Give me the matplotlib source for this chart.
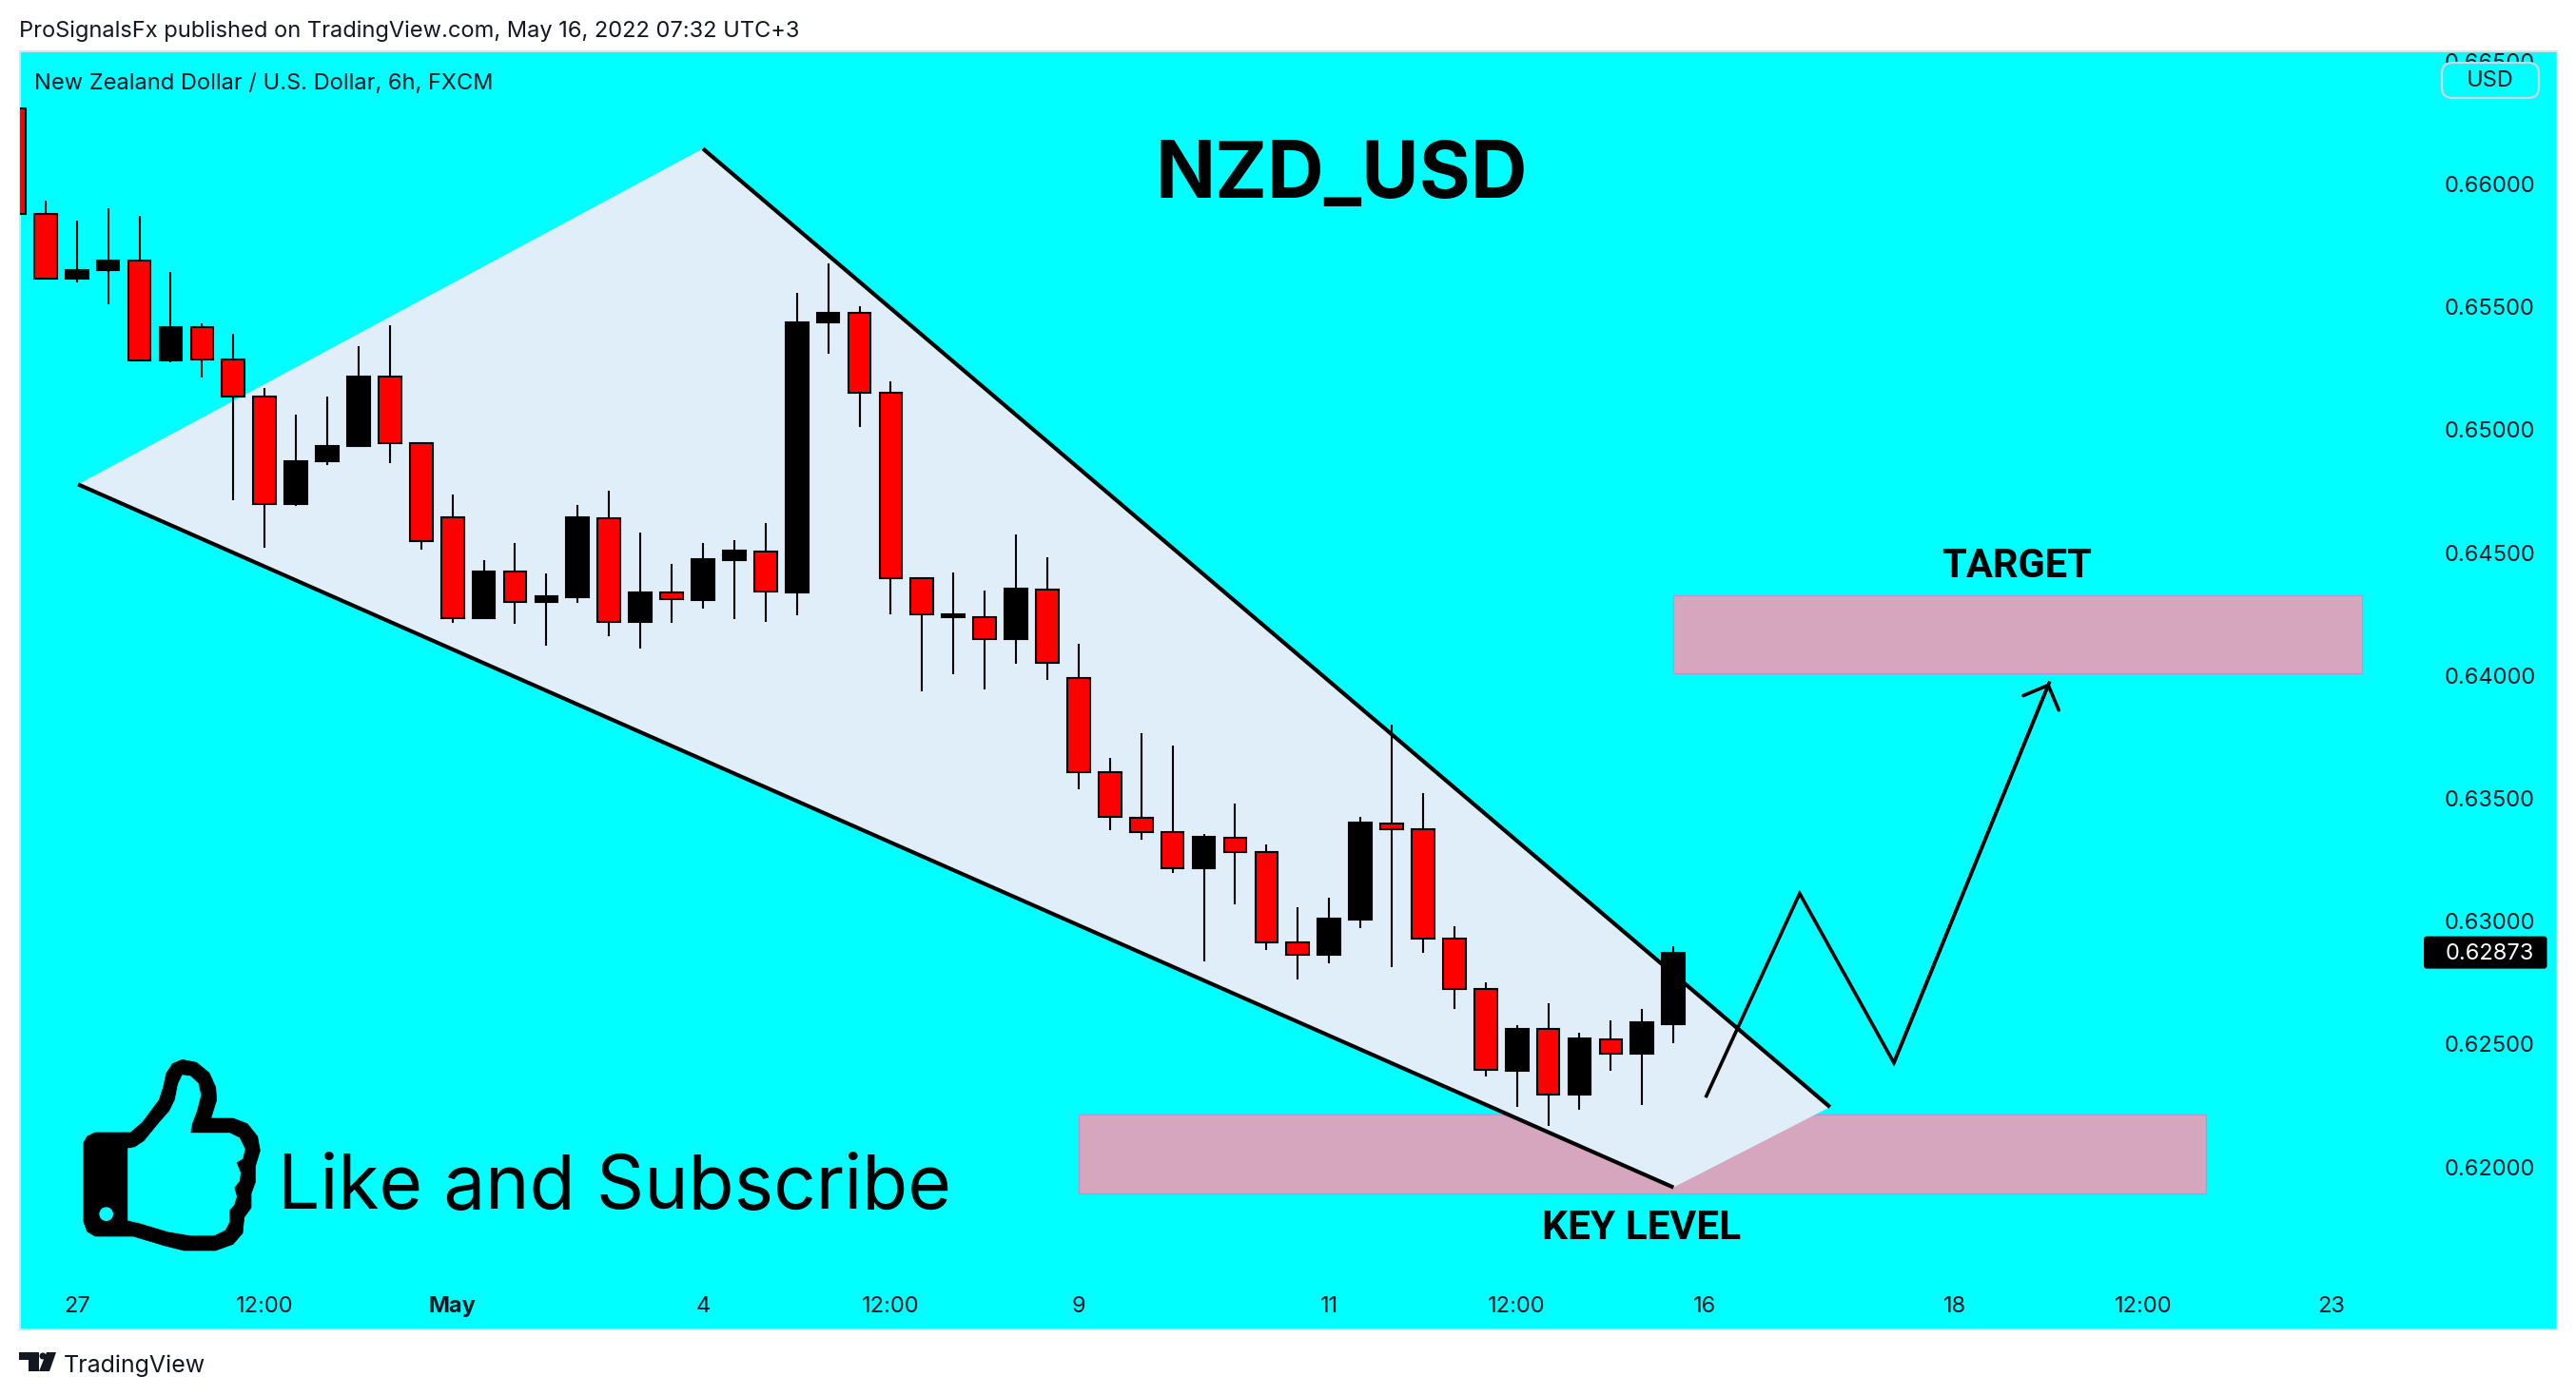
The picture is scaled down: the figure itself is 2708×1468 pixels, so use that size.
import matplotlib
matplotlib.use("Agg")
import matplotlib.pyplot as plt
from matplotlib.patches import Polygon, Rectangle, FancyBboxPatch, Circle
from matplotlib.transforms import Affine2D

plt.rcParams['font.family'] = ['Inter', 'DejaVu Sans']

# 6h candles, first one is cut by the left edge of the panel
opens = [.66307, .65878, .65614, .65650, .65688, .65282, .65417, .65285, .65136, .64697,
         .64872, .64933, .65217, .64945, .64645, .64232, .64424, .64298, .64317, .64641,
         .64218, .64339, .64309, .64468, .64506, .64340, .65436, .65474, .65151, .64395,
         .64236, .64238, .64147, .64350, .63991, .63607, .63421, .63364, .63214, .63341,
         .63282, .62915, .62863, .63006, .63399, .63376, .62931, .62725, .62392, .62560,
         .62295, .62521, .62460, .62583]
highs = [.66307, .65932, .65850, .65903, .65872, .65641, .65435, .65392, .65171, .65063,
         .65137, .65342, .65427, .64951, .64735, .64468, .64538, .64414, .64696, .64754,
         .64580, .64453, .64538, .64549, .64619, .65558, .65678, .65501, .65199, .64395,
         .64418, .64344, .64576, .64480, .64128, .63664, .63764, .63714, .63354, .63478,
         .63311, .63056, .63095, .63424, .63799, .63520, .62979, .62750, .62576, .62665,
         .62545, .62596, .62642, .62897]
lows = [.65880, .65610, .65599, .65510, .65278, .65273, .65213, .64713, .64520, .64690,
        .64856, .64933, .64863, .64511, .64213, .64232, .64209, .64120, .64294, .64162,
        .64108, .64213, .64271, .64228, .64220, .64247, .65311, .65010, .64248, .63934,
        .64004, .63942, .64046, .63984, .63536, .63371, .63331, .63195, .62836, .63068,
        .62882, .62762, .62828, .62973, .62812, .62870, .62642, .62367, .62244, .62166,
        .62232, .62391, .62251, .62503]
closes = [.65880, .65615, .65650, .65690, .65284, .65419, .65287, .65136, .64697, .64874,
          .64935, .65217, .64946, .64548, .64233, .64425, .64299, .64321, .64642, .64218,
          .64340, .64311, .64472, .64507, .64342, .65438, .65477, .65151, .64398, .64249,
          .64251, .64149, .64352, .64051, .63608, .63423, .63364, .63217, .63343, .63282,
          .62915, .62865, .63010, .63400, .63376, .62931, .62725, .62394, .62561, .62296,
          .62522, .62462, .62588, .62873]
bars = list(range(-1, 53))

x_ticks = [1, 7, 13, 21, 27, 33, 41, 47, 53, 61, 67, 73]
x_labels = ['27', '12:00', 'May', '4', '12:00', '9', '11', '12:00', '16', '18', '12:00', '23']
y_ticks = [.62, .625, .63, .635, .64, .645, .65, .655, .66, .665]

# drawings on the chart
wedge_x = [1.04, 21, 57, 52]
wedge_y = [.64778, .66144, .62244, .61917]
key_x = [33, 69]
key_y = [.61892, .62213]
target_x = [52, 74]
target_y = [.64008, .64326]
path_x = [53.05, 56.03, 59.04, 64]
path_y = [.62289, .63113, .62424, .63970]

W, H = 2708, 1468
CYAN = '#00FFFF'
fig = plt.figure(figsize=(W / 100, H / 100), dpi=100, facecolor='white')
ax = fig.add_axes([20.5 / W, 1 - 1398 / H, 2667.5 / W, 1344 / H], facecolor=CYAN)
ax.set_xlim(-0.83, 80.22)
ax.set_ylim(.61339, .6654)
for s in ax.spines.values():
    s.set_color('#CFE6EC')
    s.set_linewidth(1.4)

# pixel coords of the picture, y going down
pix = Affine2D().scale(1, -1).translate(0, H)

for x, y in [(key_x, key_y), (target_x, target_y)]:
    ax.add_patch(Rectangle((x[0], y[0]), x[1] - x[0], y[1] - y[0], facecolor='#D6A6BE',
                           edgecolor='#C68FCB', linewidth=0.9, zorder=1))
ax.add_patch(Polygon(list(zip(wedge_x, wedge_y)), closed=True, facecolor='#E0EEF9',
                     edgecolor='none', zorder=2))
ax.plot([wedge_x[0], wedge_x[3]], [wedge_y[0], wedge_y[3]], color='black', lw=3.0,
        solid_capstyle='butt', zorder=3)
ax.plot(wedge_x[1:3], wedge_y[1:3], color='black', lw=3.0, solid_capstyle='butt', zorder=3)

# candles
colors = ['black' if c > o else '#FF0000' for o, c in zip(opens, closes)]
ax.vlines(bars, lows, highs, color='black', lw=1.5, zorder=4)
ax.bar(bars, [abs(c - o) for o, c in zip(opens, closes)], bottom=[min(o, c) for o, c in zip(opens, closes)],
       width=0.72, color=colors, edgecolor='black', linewidth=1.5, zorder=5)

# expected path
ax.plot(path_x, path_y, color='black', lw=2.6, solid_joinstyle='miter', zorder=6)
ax.annotate('', xy=(path_x[3], path_y[3]), xytext=(path_x[2], path_y[2]), zorder=6,
            arrowprops=dict(arrowstyle='->,head_length=1,head_width=1', mutation_scale=14.5,
                            color='black', lw=2.6, shrinkA=0, shrinkB=0))

# axes labels sit inside the panel
ax.yaxis.tick_right()
ax.set_yticks(y_ticks)
ax.set_yticklabels(['%.5f' % v for v in y_ticks])
ax.tick_params(axis='y', length=0, pad=-85.5, labelsize=17, labelcolor='#131722')
ax.set_xticks(x_ticks)
ax.set_xticklabels(x_labels)
ax.tick_params(axis='x', length=0, pad=-25.5, labelsize=17, labelcolor='#131722')
ax.get_xticklabels()[2].set_fontweight('bold')

# currency button
fig.add_artist(FancyBboxPatch((2573, 72), 90, 25, boxstyle='round,pad=6,rounding_size=11',
                              facecolor=CYAN, edgecolor='#D1D4DC', linewidth=1.6, transform=pix))
fig.text(2618, 85, 'USD', transform=pix, fontsize=17, color='#131722', ha='center', va='center')

# last price tag
yp = H - ax.transData.transform((0, closes[-1]))[1]
fig.add_artist(FancyBboxPatch((2550, yp - 15), 125.5, 30, boxstyle='round,pad=2,rounding_size=3',
                              facecolor='black', edgecolor='none', transform=pix))
fig.text(2617, yp + 1, '%.5f' % closes[-1], transform=pix, fontsize=17, color='white', ha='center', va='center')

# header, footer
fig.text(20, 33, 'ProSignalsFx published on TradingView.com, May 16, 2022 07:32 UTC+3', transform=pix,
         fontsize=17, color='#131722', va='center')
fig.text(36, 88, 'New Zealand Dollar / U.S. Dollar, 6h, FXCM', transform=pix, fontsize=17,
         color='#131722', va='center')
fig.text(67, 1436, 'TradingView', transform=pix, fontsize=18, color='#131722', va='center')

# annotations
fig.text(1410, 208, 'NZD_USD', transform=pix, fontsize=59.5, fontweight='bold', color='black',
         ha='center', va='baseline')
fig.text(2120, 607, 'TARGET', transform=pix, fontsize=30, fontweight='bold', color='black',
         family='Roboto', ha='center', va='baseline')
fig.text(1726, 1303, 'KEY LEVEL', transform=pix, fontsize=30.5, fontweight='bold', color='black',
         family='Roboto', ha='center', va='baseline')
fig.text(292, 1271, 'Like and Subscribe', transform=pix, fontsize=56.5, color='black', va='baseline')

# thumb icon (3x crop coordinates)
thumb_out = [(120, 273), (232, 273), (270, 240), (322, 170), (335, 130), (345, 85), (365, 55), (395, 43),
             (440, 52), (480, 85), (500, 130), (503, 170), (485, 228), (555, 228), (600, 245), (632, 285),
             (640, 330), (625, 380), (625, 430), (612, 465), (612, 510), (590, 540), (585, 590), (555, 625),
             (500, 645), (400, 645), (340, 630), (240, 600), (120, 600), (95, 585), (84, 555), (84, 305),
             (95, 285)]
thumb_in = [(224, 323), (245, 320), (275, 300), (320, 245), (355, 205), (372, 170), (382, 120), (395, 92),
            (420, 95), (445, 118), (453, 155), (440, 205), (425, 245), (420, 275), (545, 275), (575, 290),
            (592, 325), (585, 355), (565, 367), (578, 400), (575, 425), (558, 447), (566, 475), (558, 500),
            (543, 518), (543, 555), (530, 580), (495, 597), (420, 597), (350, 585), (260, 558), (224, 550)]
crop = Affine2D().scale(1 / 3).translate(60, 1100) + pix
fig.add_artist(Polygon(thumb_out, closed=True, facecolor='black', edgecolor='black', lw=0.5,
                       joinstyle='round', transform=crop))
fig.add_artist(Polygon(thumb_in, closed=True, facecolor=CYAN, edgecolor=CYAN, lw=0.5,
                       joinstyle='round', transform=crop))
fig.add_artist(Circle((155, 530), 22, facecolor=CYAN, edgecolor='none', transform=crop))

# tradingview logo
dark = '#131722'
fig.add_artist(Polygon([(20, 1422), (41, 1422), (41, 1442), (30, 1442), (30, 1430), (20, 1430)], closed=True,
                       facecolor=dark, edgecolor='none', transform=pix))
fig.add_artist(Circle((45, 1426), 3.5, facecolor=dark, edgecolor='none', transform=pix))
fig.add_artist(Polygon([(49, 1422), (59, 1422), (52, 1442), (41, 1442)], closed=True,
                       facecolor=dark, edgecolor='none', transform=pix))

fig.savefig('out.png', dpi=100)
